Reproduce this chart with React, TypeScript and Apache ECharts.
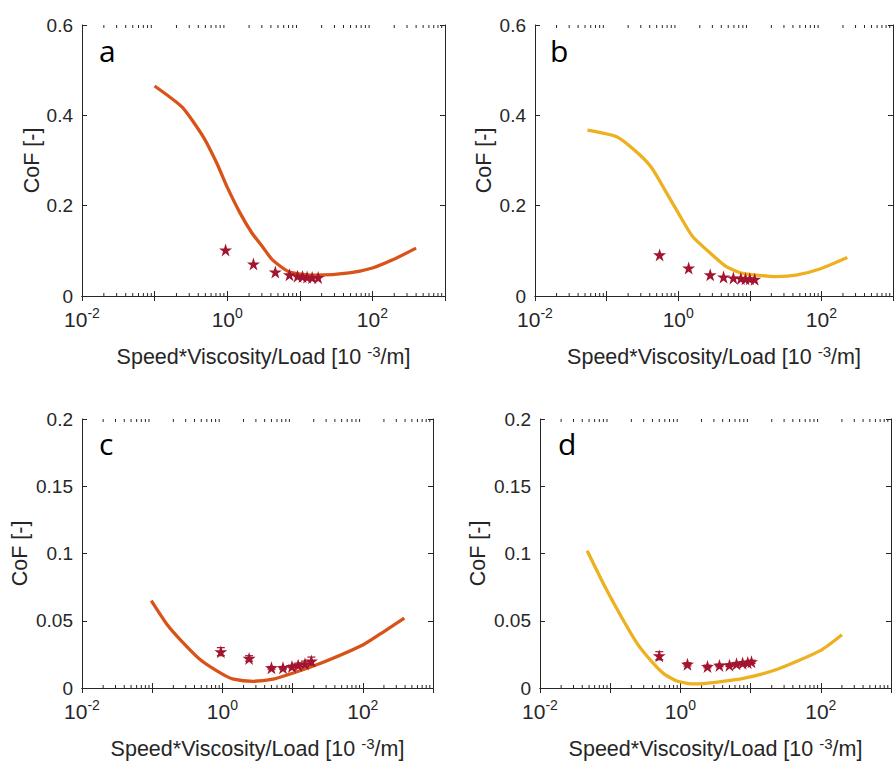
import React, { useEffect, useRef } from 'react';
import * as echarts from 'echarts';

// Panel a (orange model curve + measured stars)
const curveAX = [0.1, 0.24, 0.47, 0.72, 1.0, 1.5, 2.2, 3.1, 4.2, 7.2, 17, 48, 100, 190, 400];
const curveAY = [0.465, 0.418, 0.352, 0.294, 0.241, 0.184, 0.139, 0.108, 0.08, 0.053, 0.046, 0.051, 0.062, 0.08, 0.106];
const starsAX = [0.95, 2.3, 4.6, 7.2, 9.3, 10.9, 12.6, 14.8, 17.9];
const starsAY = [0.102, 0.071, 0.053, 0.047, 0.044, 0.043, 0.042, 0.041, 0.041];

// Panel b (yellow)
const curveBX = [0.054, 0.14, 0.27, 0.43, 0.65, 1.0, 1.6, 2.8, 4.7, 8, 23, 44, 100, 230];
const curveBY = [0.367, 0.352, 0.317, 0.283, 0.235, 0.184, 0.131, 0.095, 0.065, 0.05, 0.043, 0.046, 0.061, 0.085];
const starsBX = [0.55, 1.4, 2.8, 4.3, 5.9, 7.5, 8.7, 10, 11.7];
const starsBY = [0.091, 0.062, 0.047, 0.042, 0.04, 0.039, 0.038, 0.038, 0.037];

// Panel c (orange)
const curveCX = [0.097, 0.164, 0.25, 0.485, 1, 1.44, 2.77, 5.3, 10, 23, 100, 200, 390];
const curveCY = [0.065, 0.047, 0.036, 0.021, 0.0103, 0.0066, 0.005, 0.0066, 0.011, 0.0176, 0.032, 0.042, 0.052];
const starsCX = [0.95, 2.4, 5, 7.3, 9.8, 12, 15, 18.5];
const starsCY = [0.027, 0.022, 0.015, 0.015, 0.016, 0.017, 0.018, 0.02];
const starsCErr = [0.003, 0.002, 0.001, 0.001, 0.001, 0.0015, 0.002, 0.003];

// Panel d (yellow)
const curveDX = [0.047, 0.081, 0.144, 0.243, 0.385, 0.59, 0.91, 1.6, 3.4, 8.2, 24, 100, 200];
const curveDY = [0.102, 0.077, 0.053, 0.033, 0.02, 0.0103, 0.005, 0.003, 0.0044, 0.0073, 0.0139, 0.028, 0.0396];
const starsDX = [0.5, 1.26, 2.43, 3.6, 5, 6.3, 7.7, 9.1, 10.3];
const starsDY = [0.024, 0.0176, 0.016, 0.0168, 0.017, 0.018, 0.0186, 0.019, 0.0195];
const starsDErr = [0.003, 0.0012, 0.001, 0.001, 0.001, 0.001, 0.001, 0.001, 0.0012];

// Axis ticks
const minorMantissas = [2, 3, 4, 5, 6, 7, 8, 9];
const decades = [0.01, 0.1, 1, 10, 100];
const panelLetters = ['a', 'b', 'c', 'd'];
const yMaxes = [0.6, 0.6, 0.2, 0.2];
const yIntervals = [0.2, 0.2, 0.05, 0.05];

const ORANGE = '#D95319';
const YELLOW = '#EDB120';
const STAR = '#A2142F';
const AXIS = '#262626';
const FONT = 'Liberation Sans';
const TICK_FS = 19;
const XTICK_FS = 21;
const NAME_FS = 21.5;

const STAR_PATH =
  'path://M50,0 L61.8,36.2 L100,36.2 L69.1,58.8 L80.9,95.1 L50,72.7 L19.1,95.1 L30.9,58.8 L0,36.2 L38.2,36.2 Z';

const zip = (xs: number[], ys: number[]) => xs.map((x, i) => [x, ys[i]]);

export default function App() {
  const ref = useRef<HTMLDivElement>(null);
  useEffect(() => {
    if (!ref.current) return;
    const chart = echarts.init(ref.current, null, { renderer: 'svg' });

    const grids = [
      { left: 82, top: 25, width: 363, height: 271 },
      { left: 535, top: 25, width: 362, height: 271 },
      { left: 82, top: 419, width: 351, height: 273 },
      { left: 540, top: 419, width: 351, height: 273 },
    ];
    const yNameGaps = [39, 40, 51, 51];

    const minorData: number[][] = [];
    decades.forEach((d) => minorMantissas.forEach((m) => minorData.push([m * d, 0])));

    const xAxes: any[] = [];
    const yAxes: any[] = [];
    grids.forEach((_, i) => {
      const common = {
        type: 'log',
        logBase: 10,
        min: 0.01,
        max: 1000,
        gridIndex: i,
        splitLine: { show: false },
        axisLine: { lineStyle: { color: AXIS, width: 1 } },
        axisTick: { inside: true, length: 5, lineStyle: { color: AXIS } },
      };
      xAxes.push({
        ...common,
        position: 'bottom',
        axisLabel: {
          color: AXIS,
          fontFamily: FONT,
          fontSize: XTICK_FS,
          lineHeight: 26,
          margin: 10,
          formatter: (v: number) => {
            const e = Math.round(Math.log10(v));
            if (e % 2 !== 0 || e === 3) return '';
            return `{b|10}{s|${e}}`;
          },
          rich: {
            b: { fontSize: XTICK_FS, fontFamily: FONT, color: AXIS, lineHeight: 26 },
            s: { fontSize: 14, fontFamily: FONT, color: AXIS, verticalAlign: 'top', lineHeight: 16 },
          },
        },
        name: 'Speed*Viscosity/Load [10 {s|-3}/m]',
        nameLocation: 'middle',
        nameGap: 48,
        nameTextStyle: {
          fontSize: NAME_FS,
          fontFamily: FONT,
          color: AXIS,
          lineHeight: 26,
          rich: {
            s: { fontSize: 15, fontFamily: FONT, color: AXIS, verticalAlign: 'top', lineHeight: 15 },
          },
        },
      });
      xAxes.push({
        ...common,
        position: 'top',
        axisLabel: { show: false },
      });
      const ycommon = {
        type: 'value',
        min: 0,
        max: yMaxes[i],
        interval: yIntervals[i],
        gridIndex: i,
        splitLine: { show: false },
        axisLine: { show: true, lineStyle: { color: AXIS, width: 1 } },
        axisTick: { show: true, inside: true, length: 5, lineStyle: { color: AXIS } },
      };
      yAxes.push({
        ...ycommon,
        position: 'left',
        axisLabel: { color: AXIS, fontSize: TICK_FS, fontFamily: FONT, margin: 9 },
        name: 'CoF [-]',
        nameLocation: 'middle',
        nameGap: yNameGaps[i],
        nameRotate: 90,
        nameTextStyle: { fontSize: NAME_FS, fontFamily: FONT, color: AXIS },
      });
      yAxes.push({
        ...ycommon,
        position: 'right',
        axisLabel: { show: false },
      });
    });

    const curves = [
      zip(curveAX, curveAY),
      zip(curveBX, curveBY),
      zip(curveCX, curveCY),
      zip(curveDX, curveDY),
    ];
    const curveColors = [ORANGE, YELLOW, ORANGE, YELLOW];
    const stars = [
      zip(starsAX, starsAY),
      zip(starsBX, starsBY),
      zip(starsCX, starsCY),
      zip(starsDX, starsDY),
    ];
    const errs: (number[][] | null)[] = [
      null,
      null,
      starsCX.map((x, i) => [x, starsCY[i], starsCErr[i]]),
      starsDX.map((x, i) => [x, starsDY[i], starsDErr[i]]),
    ];

    const series: any[] = [];
    grids.forEach((_, i) => {
      series.push({
        type: 'custom',
        xAxisIndex: 2 * i,
        yAxisIndex: 2 * i,
        silent: true,
        clip: false,
        data: minorData,
        encode: { x: 0, y: 1 },
        renderItem: (params: any, api: any) => {
          const x = api.coord([api.value(0), 0])[0];
          const cs = params.coordSys;
          const st = { stroke: AXIS, lineWidth: 1 };
          return {
            type: 'group',
            children: [
              { type: 'line', shape: { x1: x, y1: cs.y + cs.height, x2: x, y2: cs.y + cs.height - 3 }, style: st },
              { type: 'line', shape: { x1: x, y1: cs.y, x2: x, y2: cs.y + 3 }, style: st },
            ],
          };
        },
      });
      series.push({
        type: 'line',
        xAxisIndex: 2 * i,
        yAxisIndex: 2 * i,
        data: curves[i],
        showSymbol: false,
        smooth: 0.2,
        lineStyle: { color: curveColors[i], width: 3.3 },
        z: 3,
      });
      if (errs[i]) {
        series.push({
          type: 'custom',
          xAxisIndex: 2 * i,
          yAxisIndex: 2 * i,
          data: errs[i],
          encode: { x: 0, y: 1 },
          z: 4,
          renderItem: (_p: any, api: any) => {
            const x = api.value(0);
            const y = api.value(1);
            const e = api.value(2);
            const lo = api.coord([x, y - e]);
            const hi = api.coord([x, y + e]);
            const st = { stroke: STAR, lineWidth: 1.2 };
            return {
              type: 'group',
              children: [
                { type: 'line', shape: { x1: lo[0], y1: lo[1], x2: hi[0], y2: hi[1] }, style: st },
                { type: 'line', shape: { x1: lo[0] - 4, y1: lo[1], x2: lo[0] + 4, y2: lo[1] }, style: st },
                { type: 'line', shape: { x1: hi[0] - 4, y1: hi[1], x2: hi[0] + 4, y2: hi[1] }, style: st },
              ],
            };
          },
        });
      }
      series.push({
        type: 'scatter',
        xAxisIndex: 2 * i,
        yAxisIndex: 2 * i,
        data: stars[i],
        symbol: STAR_PATH,
        symbolSize: 13,
        itemStyle: { color: STAR, opacity: 1 },
        z: 5,
      });
    });

    const letterPos = [
      [99, 50],
      [550, 50],
      [99, 443],
      [558, 443],
    ];

    chart.setOption({
      animation: false,
      backgroundColor: '#ffffff',
      grid: grids.map((g) => ({ ...g, containLabel: false })),
      xAxis: xAxes,
      yAxis: yAxes,
      series,
      graphic: panelLetters.map((t, i) => ({
        type: 'text',
        x: letterPos[i][0],
        y: letterPos[i][1],
        style: {
          text: t,
          fontSize: 30,
          fontFamily: 'Open Sans',
          fill: '#000000',
          textVerticalAlign: 'middle',
        },
      })),
    });
    return () => chart.dispose();
  }, []);
  return (
    <div
      ref={ref}
      style={{ position: 'absolute', left: 0, top: 0, width: 896, height: 763, background: '#fff' }}
    />
  );
}
